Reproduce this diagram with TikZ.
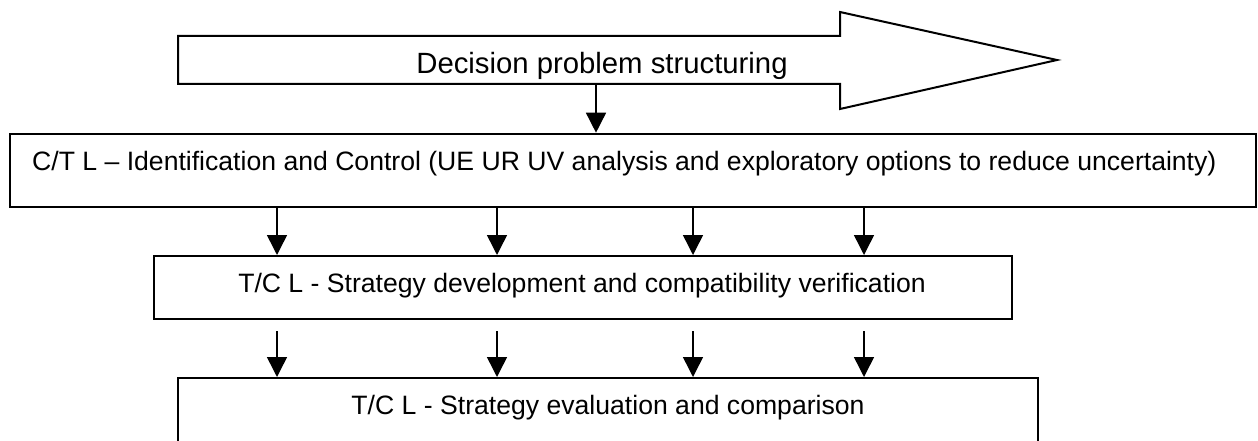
\documentclass[tikz,border=0pt]{standalone}
\usepackage{fontspec}
\setmainfont{Liberation Sans}
\usetikzlibrary{arrows.meta}
\begin{document}
\begin{tikzpicture}[x=1pt,y=-1pt,
  boxshape/.style={draw,line width=2pt,inner sep=0pt,rectangle},
  arr/.style={line width=1.5pt,-{Triangle[length=20pt,width=20pt]}},
  boxtext/.style={inner sep=0pt,anchor=base,font=\fontsize{26.6}{30}\selectfont},
  toptext/.style={inner sep=0pt,anchor=base,font=\fontsize{29.3}{33}\selectfont}]
\clip (0,0) rectangle (1258,441);
\fill[white] (0,0) rectangle (1258,441);
% big arrow
\draw[line width=2pt,line join=miter] (178,36) -- (840,36) -- (840,12) -- (1057,60) -- (840,109) -- (840,84) -- (178,84) -- cycle;
\node[toptext] (dps) at (602,74) {Decision problem structuring};
\coordinate (dpsb) at (596,84);
% boxes
\node[boxshape,line width=2.6pt,minimum width=1246pt,minimum height=73pt] (b2) at (633,170.5) {};
\node[boxtext,anchor=base west] (t2) at (32,170) {C/T L – Identification and Control (UE UR UV analysis and exploratory options to reduce uncertainty)};
\node[boxshape,minimum width=858pt,minimum height=63pt] (b3) at (583,287.5) {};
\node[boxtext] (t3) at (582,292) {T/C L - Strategy development and compatibility verification};
\node[boxshape,minimum width=860pt,minimum height=120pt] (b4) at (608,438) {};
\node[boxtext] (t4) at (608,414) {T/C L - Strategy evaluation and comparison};
% connectors
\draw[arr] (dpsb) -- (dpsb |- b2.north);
\foreach \xx in {277,497,693,864}{
  \draw[arr] (b2.south -| \xx,0) -- (b3.north -| \xx,0);
  \coordinate (s\xx) at ([yshift=-11pt]b3.south -| \xx,0);
  \draw[arr] (s\xx) -- (b4.north -| \xx,0);
}
\end{tikzpicture}
\end{document}
